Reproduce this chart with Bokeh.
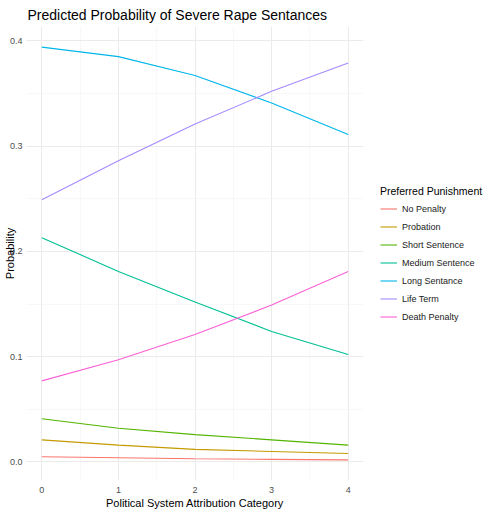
from bokeh.plotting import figure
from bokeh.models import Legend, LegendItem, FixedTicker, ColumnDataSource
from bokeh.embed import file_html
from bokeh.resources import INLINE

categories = [0, 1, 2, 3, 4]
no_penalty = [0.005, 0.004, 0.003, 0.0025, 0.002]
probation = [0.021, 0.016, 0.012, 0.010, 0.008]
short_sentence = [0.041, 0.032, 0.026, 0.021, 0.016]
medium_sentence = [0.213, 0.181, 0.152, 0.124, 0.102]
long_sentance = [0.394, 0.385, 0.367, 0.341, 0.311]
life_term = [0.249, 0.286, 0.321, 0.352, 0.379]
death_penalty = [0.077, 0.097, 0.121, 0.149, 0.181]

series_names = ["No Penalty", "Probation", "Short Sentence", "Medium Sentence",
                "Long Sentance", "Life Term", "Death Penalty"]
series_values = [no_penalty, probation, short_sentence, medium_sentence,
                 long_sentance, life_term, death_penalty]
colors = ["#F8766D", "#C49A00", "#53B400", "#00C094", "#00B6EB", "#A58AFF", "#FB61D7"]

FONT = "Liberation Sans"

p = figure(frame_width=337, frame_height=454, output_backend="svg", toolbar_location=None,
           x_range=(-0.2, 4.2), y_range=(-0.0176, 0.4136),
           title="Predicted Probability of Severe Rape Sentances",
           min_border_left=0, min_border_right=0, min_border_top=0,
           min_border_bottom=0)

p.title.text_font = FONT
p.title.text_font_size = "14px"
p.title.text_font_style = "normal"
p.title.text_color = "#000000"
p.title.offset = 1
p.title.standoff = 8

items = []
for name, vals, c in zip(series_names, series_values, colors):
    src = ColumnDataSource(dict(x=categories, y=vals))
    r = p.line("x", "y", source=src, line_color=c, line_width=1.1)
    items.append(LegendItem(label=name, renderers=[r]))

legend = Legend(items=items, title="Preferred Punishment", location=(17, 156))
legend.title_text_font = FONT
legend.title_text_font_size = "10.5px"
legend.title_text_font_style = "normal"
legend.title_text_color = "#000000"
legend.title_standoff = 4
legend.label_text_font = FONT
legend.label_text_font_size = "9px"
legend.label_text_color = "#1a1a1a"
legend.glyph_width = 17
legend.glyph_height = 15
legend.label_height = 15
legend.spacing = 3
legend.label_standoff = 5
legend.padding = 0
legend.margin = 0
legend.border_line_color = None
legend.background_fill_color = None
p.add_layout(legend, "right")

for ax in (p.xaxis[0], p.yaxis[0]):
    ax.axis_line_color = None
    ax.major_tick_line_color = None
    ax.minor_tick_line_color = None
    ax.major_tick_out = 0
    ax.major_tick_in = 0
    ax.minor_tick_out = 0
    ax.minor_tick_in = 0
    ax.major_label_text_font = FONT
    ax.major_label_text_font_size = "9px"
    ax.major_label_text_color = "#4d4d4d"
    ax.axis_label_text_font = FONT
    ax.axis_label_text_font_size = "11px"
    ax.axis_label_text_font_style = "normal"
    ax.axis_label_text_color = "#000000"
    ax.major_label_standoff = 4

p.xaxis.major_label_standoff = 6
p.xaxis.axis_label_standoff = 1
p.yaxis.axis_label_standoff = -9

p.xaxis.axis_label = "Political System Attribution Category"
p.yaxis.axis_label = "Probability"
p.xaxis.ticker = FixedTicker(ticks=[0, 1, 2, 3, 4], minor_ticks=[0.5, 1.5, 2.5, 3.5])
p.yaxis.ticker = FixedTicker(ticks=[0.0, 0.1, 0.2, 0.3, 0.4],
                             minor_ticks=[0.05, 0.15, 0.25, 0.35])
p.yaxis.major_label_overrides = {0.0: "0.0", 0.1: "0.1", 0.2: "0.2", 0.3: "0.3", 0.4: "0.4"}

p.xgrid.grid_line_color = "#ebebeb"
p.ygrid.grid_line_color = "#ebebeb"
p.xgrid.grid_line_width = 1
p.ygrid.grid_line_width = 1
p.xgrid.minor_grid_line_color = "#f3f3f3"
p.ygrid.minor_grid_line_color = "#f3f3f3"
p.xgrid.minor_grid_line_width = 0.6
p.ygrid.minor_grid_line_width = 0.6

p.outline_line_color = None
p.background_fill_color = "white"
p.border_fill_color = "white"

open("out.html", "w").write(file_html(p, INLINE))
